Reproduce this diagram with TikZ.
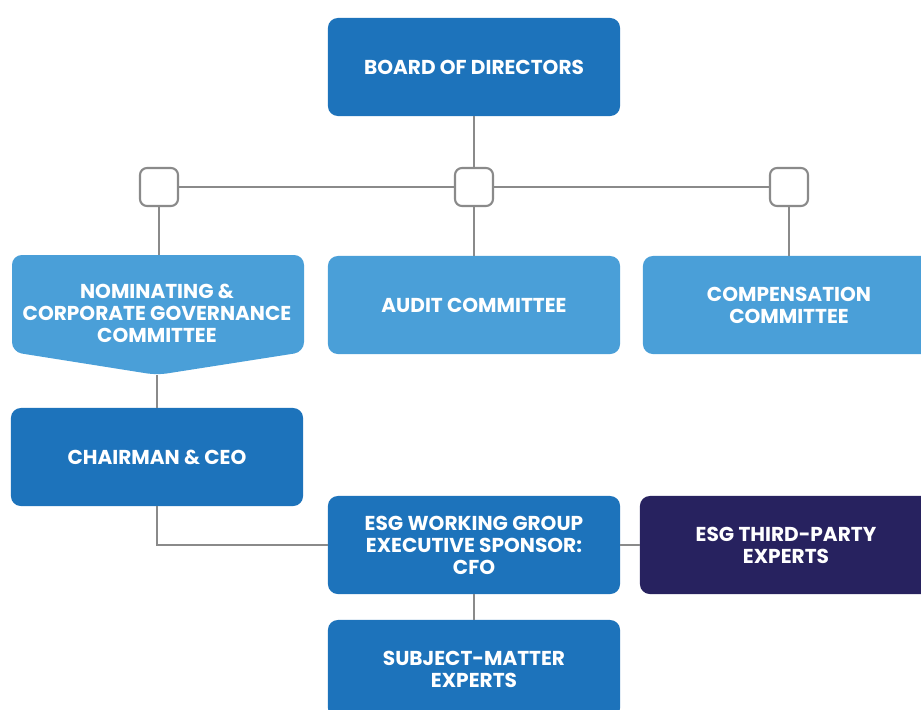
\documentclass[tikz,border=0pt]{standalone}
\usepackage{fontspec}
\setmainfont{Poppins}
\usetikzlibrary{positioning}

\definecolor{boardblue}{HTML}{1D73BB}
\definecolor{committeeblue}{HTML}{4A9FD8}
\definecolor{expertnavy}{HTML}{27225F}
\definecolor{linegray}{HTML}{8A8A8A}

\tikzset{
    orgbox/.style={rounded corners=7pt, minimum width=7.3cm, minimum height=2.45cm,
        align=center, text=white, inner sep=2pt,
        font=\bfseries\fontsize{14.3}{15.6}\selectfont},
    junction/.style={draw=linegray, fill=white, line width=1.5pt, rounded corners=5pt,
        minimum size=0.95cm, inner sep=0pt},
    orgline/.style={draw=linegray, line width=1.6pt}
}

\begin{document}
\begin{tikzpicture}[x=0.025cm, y=-0.025cm]
            \clip (0, 0) rectangle (921, 710);

            % Draw the board and the committee boxes
            \node[orgbox, fill=boardblue] (board) at (474, 67) {BOARD OF DIRECTORS};
            \fill[committeeblue, rounded corners=7pt]
                (12, 255) -- (304, 255) -- (304, 352) -- (157, 375) -- (12, 352) -- cycle;
            \node[align=center, text=white, font=\bfseries\fontsize{14.3}{15.6}\selectfont]
                (nominating) at (157, 313) {NOMINATING \&\\CORPORATE GOVERNANCE\\COMMITTEE};
            \coordinate (nominatingtip) at (157, 375);
            \coordinate (nominatingtop) at (157, 255);
            \node[orgbox, fill=committeeblue] (audit) at (474, 305) {AUDIT COMMITTEE};
            \node[orgbox, fill=committeeblue] (compensation) at (789, 305) {COMPENSATION\\COMMITTEE};

            % Draw the management boxes
            \node[orgbox, fill=boardblue] (chairman) at (157, 457) {CHAIRMAN \& CEO};
            \node[orgbox, fill=boardblue] (working) at (474, 545) {ESG WORKING GROUP\\EXECUTIVE SPONSOR:\\CFO};
            \node[orgbox, fill=expertnavy] (thirdparty) at (786, 545) {ESG THIRD-PARTY\\EXPERTS};
            \node[orgbox, fill=boardblue] (subject) at (474, 669) {SUBJECT-MATTER\\EXPERTS};

            % Draw the junctions
            \node[junction] (jleft) at (159, 187) {};
            \node[junction] (jmid) at (474, 187) {};
            \node[junction] (jright) at (789, 187) {};

            % Connect the boxes
            \draw[orgline] (board.south) -- (jmid.north);
            \draw[orgline] (jleft.east) -- (jmid.west);
            \draw[orgline] (jmid.east) -- (jright.west);
            \draw[orgline] (jleft.south) -- (jleft.south |- nominatingtop);
            \draw[orgline] (jmid.south) -- (audit.north);
            \draw[orgline] (jright.south) -- (compensation.north);
            \draw[orgline] (nominatingtip) -- (chairman.north);
            \draw[orgline] (chairman.south) |- (working.west);
            \draw[orgline] (working.east) -- (thirdparty.west);
            \draw[orgline] (working.south) -- (subject.north);
        \end{tikzpicture}
\end{document}
